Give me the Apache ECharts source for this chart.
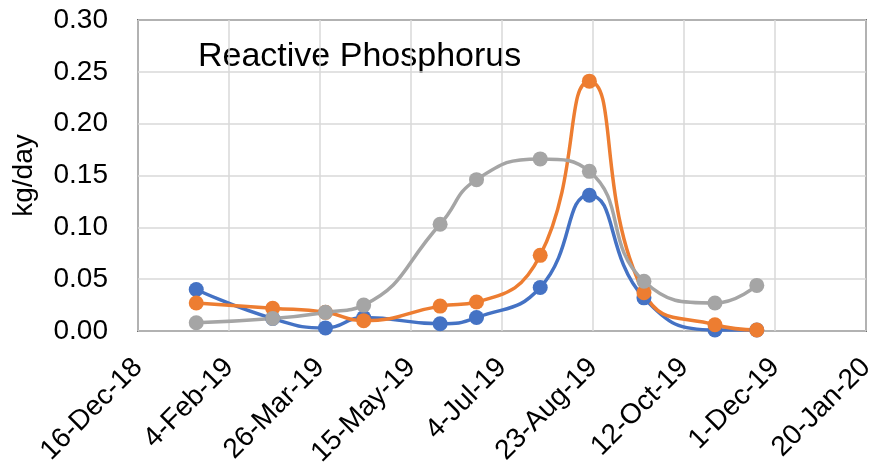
<!DOCTYPE html>
<html>
<head>
<meta charset="utf-8">
<script src="https://cdn.jsdelivr.net/npm/echarts@6/dist/echarts.min.js"></script>
<style>
  html, body { margin: 0; padding: 0; background: #fff; }
  #chart { width: 881px; height: 476px; }
</style>
</head>
<body>
<div id="chart"></div>
<script>
// sample dates and loads (kg/day)
const dates = ['2019-01-17', '2019-02-28', '2019-03-29', '2019-04-19', '2019-05-31', '2019-06-20',
               '2019-07-25', '2019-08-21', '2019-09-20', '2019-10-29', '2019-11-21'];
const blueVals   = [0.040, 0.012, 0.003, 0.013, 0.007, 0.013, 0.042, 0.131, 0.032, 0.001, 0.001];
const orangeVals = [0.027, 0.022, 0.018, 0.010, 0.024, 0.028, 0.073, 0.241, 0.037, 0.006, 0.001];
const grayVals   = [0.008, 0.012, 0.018, 0.025, 0.103, 0.146, 0.166, 0.154, 0.048, 0.027, 0.044];

// x axis runs 16-Dec-18 .. 20-Jan-20 in 50 day steps
const axisStart = '2018-12-16';
const axisDays = 400;
const tickDays = 50;

const DAY = 86400000;
const MONTHS = ['Jan','Feb','Mar','Apr','May','Jun','Jul','Aug','Sep','Oct','Nov','Dec'];
const base = Date.parse(axisStart);
const dayOf = s => Math.round((Date.parse(s) - base) / DAY);
const fmtDay = d => {
  const t = new Date(base + d * DAY);
  return t.getUTCDate() + '-' + MONTHS[t.getUTCMonth()] + '-' + String(t.getUTCFullYear()).slice(2);
};
const pairs = vals => dates.map((s, i) => [dayOf(s), vals[i]]);

const font = 'Liberation Sans';
const mkSeries = (vals, color) => ({
  type: 'line',
  data: pairs(vals),
  smooth: 0.5,
  symbol: 'circle',
  symbolSize: 15,
  lineStyle: { color: color, width: 3.5 },
  itemStyle: { color: color },
  animation: false
});

let chart = echarts.init(document.getElementById('chart'));
chart.setOption({
  textStyle: { fontFamily: font },
  grid: {
    left: 138, right: 15, top: 20, bottom: 145,
    show: true, borderColor: '#000', borderWidth: 1.5, backgroundColor: 'transparent'
  },
  graphic: [{
    type: 'text', left: 198, top: 40,
    style: { text: 'Reactive Phosphorus', font: '34px "Liberation Sans"', fill: '#000' }
  }],
  xAxis: {
    type: 'value', min: 0, max: axisDays, interval: tickDays,
    axisLine: { show: false }, axisTick: { show: false },
    splitLine: { show: true, lineStyle: { color: '#d9d9d9', width: 1.5 } },
    axisLabel: {
      rotate: 45, margin: 32, fontSize: 28, color: '#000', fontFamily: font,
      showMinLabel: true, showMaxLabel: true,
      formatter: v => fmtDay(v)
    }
  },
  yAxis: {
    type: 'value', min: 0, max: 0.30, interval: 0.05,
    name: 'kg/day', nameLocation: 'middle', nameGap: 100, nameRotate: 90,
    nameTextStyle: { fontSize: 28, color: '#000', fontFamily: font },
    axisLine: { show: false }, axisTick: { show: false },
    splitLine: { show: true, lineStyle: { color: '#d9d9d9', width: 1.5 } },
    axisLabel: { margin: 30, fontSize: 28, color: '#000', fontFamily: font, formatter: v => v.toFixed(2) }
  },
  series: [
    mkSeries(blueVals, '#4472C4'),
    mkSeries(orangeVals, '#ED7D31'),
    mkSeries(grayVals, '#A5A5A5')
  ]
});
</script>
</body>
</html>
